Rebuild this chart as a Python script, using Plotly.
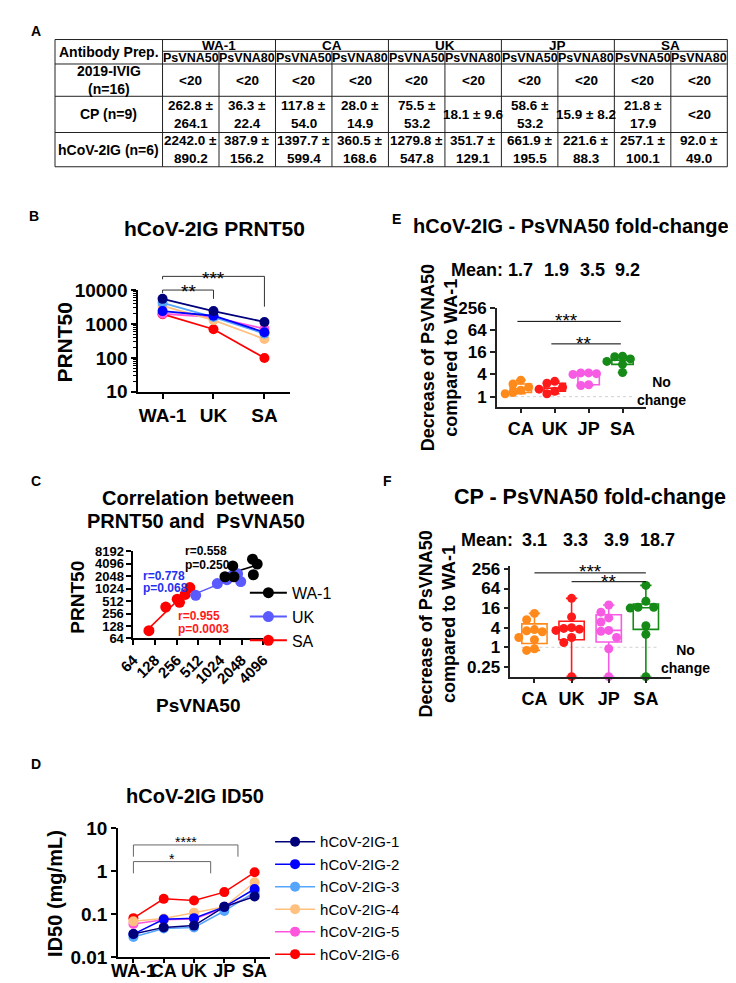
import numpy as np
import plotly.graph_objects as go

W, H = 736, 983
SANS = "Liberation Sans, Arial, Helvetica, sans-serif"

# ======================= DATA =======================
# Panel A (table)
table_variants = ["WA-1", "CA", "UK", "JP", "SA"]
table_assays = ["PsVNA50", "PsVNA80"]
table_row_labels = ["2019-IVIG<br>(n=16)", "CP (n=9)", "hCoV-2IG (n=6)"]
ivig_mean = [None] * 10
ivig_sd = [None] * 10
cp_mean = [262.8, 36.3, 117.8, 28.0, 75.5, 18.1, 58.6, 15.9, 21.8, None]
cp_sd = [264.1, 22.4, 54.0, 14.9, 53.2, 9.6, 53.2, 8.2, 17.9, None]
hcov_mean = [2242.0, 387.9, 1397.7, 360.5, 1279.8, 351.7, 661.9, 221.6, 257.1, 92.0]
hcov_sd = [890.2, 156.2, 599.4, 168.6, 547.8, 129.1, 195.5, 88.3, 100.1, 49.0]
below_lod = "<20"

# Panel B (PRNT50 per donor lot)
prnt_variants = ["WA-1", "UK", "SA"]
prnt50_ig1 = [5500, 2400, 1150]
prnt50_ig2 = [2400, 1750, 570]
prnt50_ig3 = [4200, 1600, 520]
prnt50_ig4 = [3400, 1300, 360]
prnt50_ig5 = [2000, 1600, 720]
prnt50_ig6 = [1950, 700, 100]
prnt_sig = [("WA-1", "UK", "**"), ("WA-1", "SA", "***")]

# Panel C (correlation)
corr_groups = ["WA-1", "UK", "SA"]
corr_colors = ["#000000", "#5A5AFF", "#FF0000"]
wa1_psvna50 = [2900, 3370, 1540, 1200, 1600, 2980]
wa1_prnt50 = [5300, 4050, 3640, 1990, 1990, 2225]
uk_psvna50 = [470, 940, 1280, 1800, 1990, 1500]
uk_prnt50 = [706, 1360, 1690, 2350, 1520, 2100]
sa_psvna50 = [105, 180, 260, 280, 335, 390]
sa_prnt50 = [99, 367, 570, 480, 745, 1090]
corr_r = ["0.558", "0.778", "0.955"]
corr_p = ["0.250", "0.068", "0.0003"]
corr_text_colors = ["#000000", "#2432F0", "#FF1A1A"]
corr_ticks = [64, 128, 256, 512, 1024, 2048, 4096, 8192]

# Panel D (ID50)
id50_variants = ["WA-1", "CA", "UK", "JP", "SA"]
donor_names = ["hCoV-2IG-1", "hCoV-2IG-2", "hCoV-2IG-3", "hCoV-2IG-4", "hCoV-2IG-5", "hCoV-2IG-6"]
donor_colors = ["#00007A", "#0000FF", "#55A5FF", "#FFC080", "#FF55DD", "#FF0000"]
id50_ig1 = [0.035, 0.050, 0.055, 0.15, 0.26]
id50_ig2 = [0.035, 0.077, 0.082, 0.15, 0.39]
id50_ig3 = [0.030, 0.047, 0.050, 0.12, 0.33]
id50_ig4 = [0.069, 0.080, 0.110, 0.15, 0.56]
id50_ig5 = [0.060, 0.075, 0.078, 0.14, 0.30]
id50_ig6 = [0.082, 0.230, 0.210, 0.33, 0.95]
id50_sig = [(0, 2.55, "*"), (0, 3.45, "****")]

# Panels E / F (fold change vs WA-1)
fold_variants = ["CA", "UK", "JP", "SA"]
fold_colors = ["#FF8A1C", "#FF1A1A", "#F75BE3", "#168A16"]
NO_CHANGE = 0.125
hcov_fold_ca = [2.8, 2.2, 1.8, 1.5, 1.3, 1.2]
hcov_fold_uk = [2.6, 2.3, 1.8, 1.6, 1.4, 1.2]
hcov_fold_jp = [4.4, 4.4, 4.2, 4.0, 2.1, 2.0]
hcov_fold_sa = [12.5, 12.0, 10.5, 9.0, 7.5, 4.5]
hcov_fold_means = ["1.7", "1.9", "3.5", "9.2"]
cp_fold_ca = [11, 7, 3.5, 3.2, 3.0, 2.0, 1.7, 0.9, 0.8]
cp_fold_uk = [32, 8.6, 4.0, 3.8, 3.6, 3.3, 2.0, 1.4, NO_CHANGE]
cp_fold_jp = [20, 12, 8, 6, 3.3, 3.1, 2.0, 0.9, NO_CHANGE]
cp_fold_sa = [80, 26, 17, 17, 16, 4.6, 2.5, NO_CHANGE]
cp_fold_means = ["3.1", "3.3", "3.9", "18.7"]
fold_sig = [("CA", "SA", "***"), ("UK", "SA", "**")]


# ======================= HELPERS =======================
def fx(px):
    return px / W


def fy(py):
    return 1 - py / H


annotations = []
shapes = []


def ann(text, x, y, size, bold=True, color="black", xanchor="center", yanchor="middle",
        angle=0, family=SANS, xref="paper", yref="paper"):
    annotations.append(dict(
        text=text, x=x, y=y, xref=xref, yref=yref, showarrow=False,
        font=dict(family=family, size=size, color=color, weight="bold" if bold else "normal"),
        xanchor=xanchor, yanchor=yanchor, textangle=angle, align="center"))


def seg(x0, y0, x1, y1, xref="paper", yref="paper", color="black", width=1, dash="solid", layer="above"):
    shapes.append(dict(type="line", x0=x0, y0=y0, x1=x1, y1=y1, xref=xref, yref=yref,
                       line=dict(color=color, width=width, dash=dash), layer=layer))


def fmt(m, s):
    if m is None:
        return [below_lod]
    t = f"{m:.1f} \u00b1 {s:.1f}"
    return [t] if len(t) <= 10 else [f"{m:.1f} \u00b1", f"{s:.1f}"]


def swarm(vals, px_per_dec, px_per_unit, diam):
    v = np.asarray(vals, dtype=float)
    ypx = np.log10(v) * px_per_dec
    order = np.argsort(-v, kind="stable")
    offs = np.zeros(len(v))
    placed = []
    step = diam * 0.95
    cands = [0.0]
    for k in range(1, 6):
        cands += [-k * step, k * step]
    for i in order:
        for c in cands:
            if all((c - px) ** 2 + (ypx[i] - py) ** 2 >= (diam * 0.95) ** 2 for px, py in placed):
                offs[i] = c / px_per_unit
                placed.append((c, ypx[i]))
                break
    return offs


def tickfont(size):
    return dict(family=SANS, size=size, color="black", weight="bold")


def base_axis(size, lw=2, color="black"):
    return dict(showline=True, linecolor=color, linewidth=lw, ticks="outside", ticklen=5,
                tickwidth=lw, tickcolor=color, showgrid=False, zeroline=False,
                tickfont=tickfont(size), mirror=False, fixedrange=True)


fig = go.Figure()

# ======================= PANEL A : table =======================
T_L, T_F, T_R = 32, 143, 726
T_ROWS = [22, 34, 47, 80, 117, 152]
TFS = 13.5
sub_w = (T_R - T_F) / (2 * len(table_variants))
for yy in [T_ROWS[0], T_ROWS[2], T_ROWS[3], T_ROWS[4], T_ROWS[5]]:
    seg(fx(T_L), fy(yy), fx(T_R), fy(yy), color="#222", width=1)
seg(fx(T_F), fy(T_ROWS[1]), fx(T_R), fy(T_ROWS[1]), color="#222", width=1)
for k in range(len(table_variants) + 1):
    xx = T_F + 2 * k * sub_w
    seg(fx(xx), fy(T_ROWS[0]), fx(xx), fy(T_ROWS[5]), color="#222", width=1)
for k in range(len(table_variants)):
    xx = T_F + (2 * k + 1) * sub_w
    seg(fx(xx), fy(T_ROWS[1]), fx(xx), fy(T_ROWS[5]), color="#222", width=1)
seg(fx(T_L), fy(T_ROWS[0]), fx(T_L), fy(T_ROWS[5]), color="#222", width=1)

ann("Antibody Prep.", fx((T_L + T_F) / 2), fy((T_ROWS[0] + T_ROWS[2]) / 2), 14)
for k, v in enumerate(table_variants):
    ann(v, fx(T_F + (2 * k + 1) * sub_w), fy((T_ROWS[0] + T_ROWS[1]) / 2 + 0.5), 13.5)
    for j, a in enumerate(table_assays):
        ann(a, fx(T_F + (2 * k + j + 0.5) * sub_w), fy((T_ROWS[1] + T_ROWS[2]) / 2 + 0.5), 12.5)
row_means = [ivig_mean, cp_mean, hcov_mean]
row_sds = [ivig_sd, cp_sd, hcov_sd]
for r, lab in enumerate(table_row_labels):
    yc = (T_ROWS[r + 2] + T_ROWS[r + 3]) / 2
    ann(lab, fx((T_L + T_F) / 2), fy(yc), 14)
    for c in range(2 * len(table_variants)):
        lines = fmt(row_means[r][c], row_sds[r][c])
        n = len(lines)
        for li, txt in enumerate(lines):
            ann(txt, fx(T_F + (c + 0.5) * sub_w), fy(yc + (li - (n - 1) / 2) * 18), TFS)

# ======================= PANEL B =======================
b_series = [prnt50_ig1, prnt50_ig2, prnt50_ig3, prnt50_ig4, prnt50_ig5, prnt50_ig6]
for i in reversed(range(len(b_series))):
    fig.add_trace(go.Scatter(x=prnt_variants, y=b_series[i], mode="lines+markers",
                             line=dict(color=donor_colors[i], width=1.8),
                             marker=dict(color=donor_colors[i], size=10),
                             xaxis="x", yaxis="y", showlegend=False, cliponaxis=False))
b_levels = [(278, 281, 287, 274), (264, 267, 295, 261)]
for (a, b, star), (ytop, yl, yr, ytxt) in zip(prnt_sig, b_levels):
    i0, i1 = prnt_variants.index(a), prnt_variants.index(b)
    seg(i0, fy(ytop), i1, fy(ytop), xref="x", color="#333", width=1)
    seg(i0, fy(ytop), i0, fy(yl), xref="x", color="#333", width=1)
    seg(i1, fy(ytop), i1, fy(yr), xref="x", color="#333", width=1)
    ann(star, (i0 + i1) / 2, fy(ytxt + 5), 19, bold=False, xref="x")

# ======================= PANEL C =======================
c_x = [wa1_psvna50, uk_psvna50, sa_psvna50]
c_y = [wa1_prnt50, uk_prnt50, sa_prnt50]
for i in reversed(range(3)):
    lx, ly = np.log2(c_x[i]), np.log2(c_y[i])
    m, b0 = np.polyfit(lx, ly, 1)
    xr = np.array([lx.min(), lx.max()])
    fig.add_trace(go.Scatter(x=2 ** xr, y=2 ** (m * xr + b0), mode="lines",
                             line=dict(color=corr_colors[i], width=1.5),
                             xaxis="x2", yaxis="y2", showlegend=False, cliponaxis=False))
for i in reversed(range(3)):
    fig.add_trace(go.Scatter(x=c_x[i], y=c_y[i], mode="markers",
                             marker=dict(color=corr_colors[i], size=11),
                             xaxis="x2", yaxis="y2", showlegend=False, cliponaxis=False))
for i, g in enumerate(corr_groups):
    fig.add_trace(go.Scatter(x=[None], y=[None], mode="lines+markers", name=g,
                             line=dict(color=corr_colors[i], width=2),
                             marker=dict(color=corr_colors[i], size=11),
                             xaxis="x2", yaxis="y2", legend="legend", showlegend=True))
c_text_pos = [(164, 545, 559), (121, 570, 582), (157, 611, 624)]
for i, (xl, y1, y2) in enumerate(c_text_pos):
    ann(f"r={corr_r[i]}", fx(xl), fy(y1), 12, color=corr_text_colors[i], xanchor="left")
    ann(f"p={corr_p[i]}", fx(xl), fy(y2), 12, color=corr_text_colors[i], xanchor="left")

# ======================= PANEL D =======================
d_series = [id50_ig1, id50_ig2, id50_ig3, id50_ig4, id50_ig5, id50_ig6]
for i in reversed(range(len(d_series))):
    fig.add_trace(go.Scatter(x=id50_variants, y=d_series[i], mode="lines+markers", name=donor_names[i],
                             line=dict(color=donor_colors[i], width=1.5),
                             marker=dict(color=donor_colors[i], size=10),
                             xaxis="x3", yaxis="y3", legend="legend2", showlegend=True, cliponaxis=False))
d_levels = [(862, 874, 855), (845, 857, 838)]
for (x0, x1, star), (ytop, yleg, ytxt) in zip(id50_sig, d_levels):
    seg(x0, fy(ytop), x1, fy(ytop), xref="x3", color="#666", width=1)
    seg(x0, fy(ytop), x0, fy(yleg), xref="x3", color="#666", width=1)
    seg(x1, fy(ytop), x1, fy(yleg), xref="x3", color="#666", width=1)
    ann(star, (x0 + x1) / 2, fy(ytxt + 4), 14, bold=False, xref="x3")

# ======================= PANELS E / F =======================
E_DOM_X, E_DOM_Y = (488, 642), (296, 397)
F_DOM_X, F_DOM_Y = (502, 668), (560, 673)
E_XR = [-0.71, 3.69]
F_XR = [-0.65, 3.68]
E_YR = [np.log10(2 ** -0.885), np.log10(256)]
F_YR = [np.log10(NO_CHANGE), np.log10(2 ** 8.3)]


def fold_panel(groups, xa, ya, dom_x, dom_y, xr, yr, box_w):
    ppu = (dom_x[1] - dom_x[0]) / (xr[1] - xr[0])
    ppd = (dom_y[1] - dom_y[0]) / (yr[1] - yr[0])
    seg(-0.35, 1, len(groups) - 1 + 0.35, 1, xref=xa, yref=ya, color="#d0d0d0", width=1,
        dash="dot", layer="below")
    for i, vals in enumerate(groups):
        fig.add_trace(go.Box(x=[i] * len(vals), y=vals, boxpoints=False, quartilemethod="exclusive",
                             width=box_w, whiskerwidth=0.45, fillcolor="rgba(255,255,255,0)",
                             line=dict(color=fold_colors[i], width=1.6),
                             xaxis=xa, yaxis=ya, showlegend=False))
        offs = swarm(vals, ppd, ppu, 8.5)
        fig.add_trace(go.Scatter(x=i + offs, y=vals, mode="markers",
                                 marker=dict(color=fold_colors[i], size=9),
                                 xaxis=xa, yaxis=ya, showlegend=False, cliponaxis=False))


fold_panel([hcov_fold_ca, hcov_fold_uk, hcov_fold_jp, hcov_fold_sa], "x4", "y4",
           E_DOM_X, E_DOM_Y, E_XR, E_YR, 0.63)
fold_panel([cp_fold_ca, cp_fold_uk, cp_fold_jp, cp_fold_sa], "x5", "y5",
           F_DOM_X, F_DOM_Y, F_XR, F_YR, 0.68)

for (a, b, star), (yl, yt) in zip(fold_sig, [(310, 305), (333, 329)]):
    i0, i1 = fold_variants.index(a), fold_variants.index(b)
    seg(i0 - 0.1, fy(yl), i1 - 0.05, fy(yl), xref="x4", color="black", width=1)
    ann(star, (i0 + i1) / 2 - 0.15, fy(yt + 4), 19, bold=False, xref="x4")
for (a, b, star), (yl, yt) in zip(fold_sig, [(567, 562), (576, 572)]):
    i0, i1 = fold_variants.index(a), fold_variants.index(b)
    seg(i0, fy(yl), i1, fy(yl), xref="x5", color="black", width=1)
    ann(star, (i0 + i1) / 2, fy(yt + 4), 19, bold=False, xref="x5")

ann("Mean:", fx(497), fy(258), 18, xanchor="right")
for i, mtxt in enumerate(hcov_fold_means):
    ann(mtxt, i + 0.05 * i, fy(258), 18, xref="x4")
ann("Mean:", fx(507), fy(533), 18, xanchor="right")
for i, mtxt in enumerate(cp_fold_means):
    ann(mtxt, i + 0.1 * i, fy(533), 18, xref="x5")

ann("No<br>change", fx(658), fy(381), 14)
ann("No<br>change", fx(683), fy(655), 14)

# ======================= TITLES & LABELS =======================
for lab, x, y in [("A", 12, 13), ("B", 10, 202), ("C", 12, 473), ("D", 12, 762), ("E", 385, 205), ("F", 375, 473)]:
    ann(lab, fx(x), fy(y), 14)
ann("hCoV-2IG PRNT50", fx(197), fy(215), 21)
ann("Correlation between", fx(180), fy(490), 20)
ann("PRNT50 and  PsVNA50", fx(178), fy(514), 20)
ann("hCoV-2IG ID50", fx(176), fy(795), 20)
ann("hCoV-2IG - PsVNA50 fold-change", fx(565), fy(213), 20)
ann("CP - PsVNA50 fold-change", fx(584), fy(489), 21.5)

ann("PRNT50", fx(42), fy(331), 21, angle=-90)
ann("PRNT50", fx(55), fy(592), 19, angle=-90)
ann("PsVNA50", fx(180), fy(703), 19)
ann("ID50 (mg/mL)", fx(32), fy(895), 20, angle=-90)
ann("Decrease of PsVNA50<br>compared to WA-1", fx(429), fy(347), 18, angle=-90)
ann("Decrease of PsVNA50<br>compared to WA-1", fx(427), fy(619), 18, angle=-90)

# ======================= AXES =======================
layout_axes = {}
ax = base_axis(19)
ax.update(domain=[fx(118), fx(275)], anchor="y", type="category", range=[-0.476, 2.51], tickangle=0)
layout_axes["xaxis"] = ax
ax = base_axis(19)
ax.update(domain=[fy(382), fy(278)], anchor="x", type="log", range=[1, 4],
          tickvals=[10, 100, 1000, 10000], ticktext=["10", "100", "1000", "10000"],
          minor=dict(ticks="outside", ticklen=3, tickwidth=1, tickcolor="black", dtick="D1"))
layout_axes["yaxis"] = ax

ax = base_axis(15)
ax.update(domain=[fx(113), fx(247)], anchor="y2", type="log",
          range=[np.log10(64), np.log10(4096)], tickvals=corr_ticks[:-1],
          ticktext=[str(t) for t in corr_ticks[:-1]], tickangle=-45)
layout_axes["xaxis2"] = ax
ax = base_axis(13)
ax.update(domain=[fy(634), fy(545)], anchor="x2", type="log",
          range=[np.log10(64), np.log10(8192)], tickvals=corr_ticks,
          ticktext=[str(t) for t in corr_ticks])
layout_axes["yaxis2"] = ax

ax = base_axis(18, lw=1.6)
ax.update(domain=[fx(97), fx(254)], anchor="y3", type="category", range=[-0.51, 4.51], tickangle=0,
          ticklen=4, ticklabelstandoff=-8)
layout_axes["xaxis3"] = ax
ax = base_axis(19, lw=1.6)
ax.update(domain=[fy(960), fy(828)], anchor="x3", type="log", range=[-2, 1],
          tickvals=[0.01, 0.1, 1, 10], ticktext=["0.01", "0.1", "1", "10"])
layout_axes["yaxis3"] = ax

for n, dx, dy, xr, yr, tv in [(4, E_DOM_X, E_DOM_Y, E_XR, E_YR, [1, 4, 16, 64, 256]),
                              (5, F_DOM_X, F_DOM_Y, F_XR, F_YR, [0.25, 1, 4, 16, 64, 256])]:
    ax = base_axis(18, lw=1.5, color="#222")
    ax.update(domain=[fx(dx[0]), fx(dx[1])], anchor=f"y{n}", range=xr, tickangle=0,
              tickvals=list(range(len(fold_variants))), ticktext=fold_variants)
    layout_axes[f"xaxis{n}"] = ax
    ax = base_axis(17, lw=1.5, color="#222")
    ax.update(domain=[fy(dy[1]), fy(dy[0])], anchor=f"x{n}", type="log", range=yr,
              tickvals=tv, ticktext=[str(t) for t in tv])
    layout_axes[f"yaxis{n}"] = ax

fig.update_layout(
    width=W, height=H, margin=dict(l=0, r=0, t=0, b=0),
    paper_bgcolor="white", plot_bgcolor="white",
    font=dict(family=SANS, color="black"),
    showlegend=True,
    legend=dict(x=fx(228), y=fy(570), xanchor="left", yanchor="top", itemwidth=37,
                font=dict(family=SANS, size=16, color="black"), tracegroupgap=0,
                bgcolor="rgba(0,0,0,0)", borderwidth=0),
    legend2=dict(x=fx(254), y=fy(825), xanchor="left", yanchor="top", itemwidth=40,
                 traceorder="reversed",
                 font=dict(family=SANS, size=15, color="black"), tracegroupgap=0,
                 bgcolor="rgba(0,0,0,0)", borderwidth=0),
    annotations=annotations, shapes=shapes,
    **layout_axes,
)

fig.write_html("out.html")
